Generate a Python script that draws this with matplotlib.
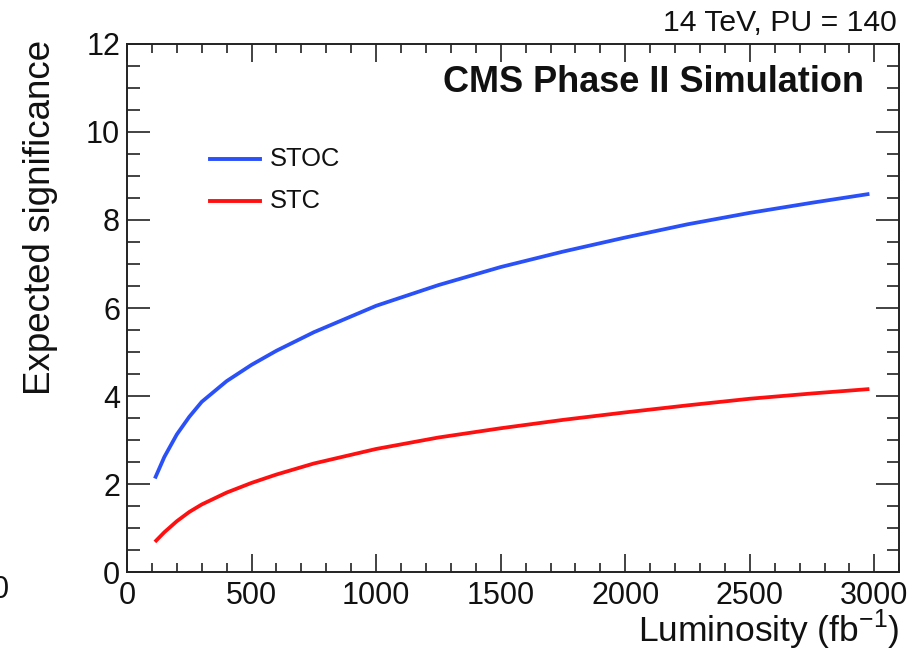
import matplotlib
matplotlib.use("Agg")
import matplotlib.pyplot as plt
from matplotlib.ticker import MultipleLocator

plt.rcParams['font.family'] = ['Liberation Sans', 'DejaVu Sans']

# Data
lumi = [112, 150, 200, 250, 300, 400, 500, 600, 750, 1000, 1250, 1500,
        1750, 2000, 2250, 2500, 2750, 2980]
sig_stoc = [2.13, 2.62, 3.13, 3.53, 3.87, 4.34, 4.71, 5.03, 5.45, 6.05, 6.52, 6.93,
            7.28, 7.60, 7.90, 8.16, 8.39, 8.59]
sig_stc = [0.69, 0.91, 1.16, 1.37, 1.54, 1.81, 2.03, 2.22, 2.47, 2.80, 3.06, 3.27,
           3.46, 3.63, 3.79, 3.94, 4.06, 4.16]

series_labels = ["STOC", "STC"]
x_label = r"Luminosity (fb$^{\mathregular{-1}}$)"
y_label = "Expected significance"
title_right = "14 TeV, PU = 140"
cms_text = "CMS Phase II Simulation"

W, H = 922, 651
fig = plt.figure(figsize=(W / 100, H / 100), dpi=100)
ax = fig.add_axes([127 / W, 1 - 572.3 / H, (899.3 - 127) / W, (572.3 - 43.7) / H])

blue = '#2a50f8'
red = '#ff1010'
ax.plot(lumi, sig_stoc, color=blue, lw=2.7, solid_capstyle='butt', solid_joinstyle='round')
ax.plot(lumi, sig_stc, color=red, lw=2.7, solid_capstyle='butt', solid_joinstyle='round')

ax.set_xlim(0, 3100)
ax.set_ylim(0, 12)
ax.xaxis.set_major_locator(MultipleLocator(500))
ax.xaxis.set_minor_locator(MultipleLocator(100))
ax.yaxis.set_major_locator(MultipleLocator(2))
ax.yaxis.set_minor_locator(MultipleLocator(0.5))

for s in ax.spines.values():
    s.set_linewidth(1.4)
    s.set_color('#222222')

ax.tick_params(axis='both', which='both', direction='in', top=True, right=True,
               width=1.2, colors='#222222', labelcolor='#111111')
ax.tick_params(axis='x', which='major', length=13, labelsize=22, pad=6)
ax.tick_params(axis='x', which='minor', length=6.5)
ax.tick_params(axis='y', which='major', length=16.5, labelsize=22, pad=5)
ax.tick_params(axis='y', which='minor', length=9)

fig.text(899 / W, 1 - 642 / H, x_label, ha='right', va='baseline', fontsize=25.5, color='#111111')
fig.text(50 / W, 1 - 40 / H, y_label, ha='right', va='baseline', rotation=90,
         rotation_mode='anchor', fontsize=26.5, color='#111111')
fig.text(897 / W, 1 - 30.7 / H, title_right, ha='right', va='baseline', fontsize=21.7, color='#111111')
fig.text(864 / W, 1 - 92.3 / H, cms_text, ha='right', va='baseline',
         fontsize=26, fontweight='bold', color='#111111')

# legend (manual, positioned like the reference)
for lab, col, yy in [(series_labels[0], blue, 159), (series_labels[1], red, 201)]:
    fig.add_artist(plt.Line2D([210 / W, 259.5 / W], [1 - yy / H, 1 - yy / H], color=col, lw=2.8,
                              transform=fig.transFigure))
    fig.text(269.5 / W, 1 - yy / H, lab, ha='left', va='center', fontsize=18.4, color='#111111')

# stray partial "0" at the left edge of the reference
fig.text(9 / W, 1 - 598 / H, "0", ha='right', va='baseline', fontsize=22, color='#111111')

fig.savefig("out.png", dpi=100)
